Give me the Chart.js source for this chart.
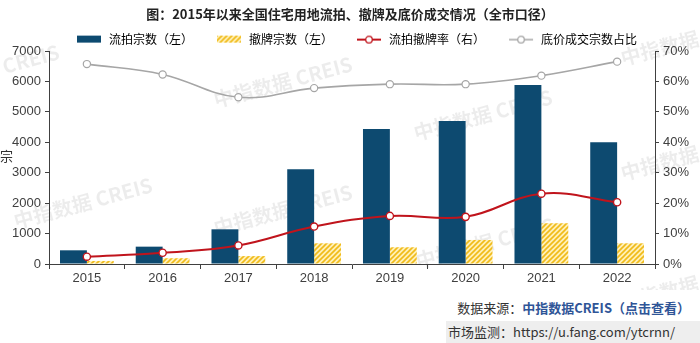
<!DOCTYPE html>
<html>
<head>
<meta charset="utf-8">
<script src="https://cdn.jsdelivr.net/npm/chart.js@4/dist/chart.umd.min.js"></script>
<style>
  body { margin: 0; width: 700px; height: 343px; background: #fff; position: relative; overflow: hidden;
         font-family: "Noto Sans CJK SC", "Liberation Sans", sans-serif; color: #333; }
  #wrap { position: absolute; left: 0; top: 0; width: 700px; height: 290px; }
  #unit { position: absolute; left: 0; top: 146px; font-size: 13px; color: #333; }
  .src { position: absolute; right: 10px; top: 298px; font-size: 13px; white-space: nowrap; }
  .src b { color: #2f5597; }
  .mon { position: absolute; left: 446px; top: 321px; width: 254px; height: 22px; background: #eeeeee;
         font-size: 13px; line-height: 22px; padding-left: 2px; white-space: nowrap; }
</style>
</head>
<body>
<div id="wrap"><canvas id="chart"></canvas></div>
<div id="unit">宗</div>
<div class="src">数据来源：<b>中指数据CREIS（点击查看）</b></div>
<div class="mon">市场监测：https://u.fang.com/ytcrnn/</div>

<script>
const years = ['2015', '2016', '2017', '2018', '2019', '2020', '2021', '2022'];
const liupaiCount = [450, 570, 1140, 3110, 4435, 4700, 5880, 4000];
const chepaiCount = [100, 190, 260, 680, 550, 790, 1340, 680];
const liupaiRate = [2.4, 3.7, 6.1, 12.3, 15.8, 15.5, 23.1, 20.3];
const dijiaShare = [65.7, 62.3, 54.8, 57.8, 59.1, 59.1, 61.9, 66.5];
const seriesNames = ['流拍宗数（左）', '撤牌宗数（左）', '流拍撤牌率（右）', '底价成交宗数占比'];

const BLUE = '#0d4a70';
const RED = '#c0141c';
const GREY = '#a6a6a6';
const AXIS = '#404040';

function makeCanvas(w, h) {
    const c = document.createElement('canvas');
    c.width = w; c.height = h;
    return c;
}

// diagonal yellow hatch for the 撤牌 bars
function hatch() {
    const c = makeCanvas(5, 5);
    const g = c.getContext('2d');
    g.fillStyle = '#fff0b8';
    g.fillRect(0, 0, 5, 5);
    g.strokeStyle = '#f0bb1a';
    g.lineWidth = 1.6;
    g.beginPath();
    g.moveTo(-1, 6); g.lineTo(6, -1);
    g.moveTo(-1, 1); g.lineTo(1, -1);
    g.moveTo(4, 6); g.lineTo(6, 4);
    g.stroke();
    return document.createElement('canvas').getContext('2d').createPattern(c, 'repeat');
}
const hatchFill = hatch();

// legend icons, left margin keeps items spaced out
const ICON_W = 40;
function icon(kind) {
    const c = makeCanvas(ICON_W, 10);
    const g = c.getContext('2d');
    const x0 = ICON_W - 26;
    if (kind === 'bar') {
        g.fillStyle = BLUE; g.fillRect(x0, 1, 24, 7);
    } else if (kind === 'hatch') {
        g.fillStyle = hatchFill; g.fillRect(x0, 1, 24, 7);
    } else {
        const col = kind === 'red' ? RED : GREY;
        g.strokeStyle = col; g.lineWidth = kind === 'red' ? 2 : 1.5;
        g.beginPath(); g.moveTo(x0, 5); g.lineTo(x0 + 24, 5); g.stroke();
        g.fillStyle = '#fff'; g.lineWidth = 1.3;
        g.beginPath(); g.arc(x0 + 12, 5, 3.3, 0, Math.PI * 2); g.fill(); g.stroke();
    }
    return c;
}
const icons = [icon('bar'), icon('hatch'), icon('red'), icon('grey')];

const watermarks = [[-10, 70], [283, 82], [483, 115], [690, 40], [83, 203], [283, 210], [485, 243], [690, 155], [690, 285]];
const watermarkPlugin = {
    id: 'watermark',
    beforeDraw(chart) {
        const ctx = chart.ctx;
        ctx.save();
        ctx.fillStyle = 'rgba(0,0,0,0.075)';
        ctx.font = 'bold 20px "Noto Sans CJK SC"';
        ctx.textAlign = 'center';
        ctx.textBaseline = 'middle';
        watermarks.forEach(([x, y]) => {
            ctx.save();
            ctx.translate(x, y);
            ctx.rotate(-15 * Math.PI / 180);
            ctx.fillText('中指数据 CREIS', 0, 0);
            ctx.restore();
        });
        ctx.restore();
    }
};

// pin the legend height so the plot starts right under it
const legendHeight = {
    id: 'legendHeight',
    beforeInit(chart) {
        const lg = chart.legend;
        const fit = lg.fit;
        lg.fit = function () { fit.call(this); this.height = 27.4; };
    }
};

const tickFont = { family: '"Liberation Sans", Arial', size: 13 };

new Chart(document.getElementById('chart'), {
    data: {
        labels: years,
        datasets: [
            { type: 'line', label: seriesNames[2], data: liupaiRate, yAxisID: 'yR', order: 1,
              borderColor: RED, borderWidth: 2, tension: 0.4, pointRadius: 3.6,
              pointBackgroundColor: '#fff', pointBorderColor: RED, pointBorderWidth: 1.4 },
            { type: 'line', label: seriesNames[3], data: dijiaShare, yAxisID: 'yR', order: 1,
              borderColor: GREY, borderWidth: 1.6, tension: 0.4, pointRadius: 3.6,
              pointBackgroundColor: '#fff', pointBorderColor: GREY, pointBorderWidth: 1.2 },
            { type: 'bar', label: seriesNames[0], data: liupaiCount, yAxisID: 'y', order: 2,
              backgroundColor: BLUE, categoryPercentage: 0.71, barPercentage: 1 },
            { type: 'bar', label: seriesNames[1], data: chepaiCount, yAxisID: 'y', order: 2,
              backgroundColor: hatchFill, categoryPercentage: 0.71, barPercentage: 1 }
        ]
    },
    options: {
        responsive: true,
        maintainAspectRatio: false,
        animation: false,
        layout: { padding: 0 },
        plugins: {
            title: {
                display: true,
                text: '图：2015年以来全国住宅用地流拍、撤牌及底价成交情况（全市口径）',
                color: '#222',
                font: { family: '"Noto Sans CJK SC"', size: 13, weight: 'bold' },
                padding: { top: 6, bottom: 2 }
            },
            legend: {
                labels: {
                    usePointStyle: true,
                    pointStyleWidth: ICON_W,
                    boxHeight: 10,
                    padding: 10,
                    color: '#333',
                    font: { family: '"Noto Sans CJK SC"', size: 12 },
                    generateLabels: () => seriesNames.map((t, i) => ({
                        text: t, pointStyle: icons[i], fillStyle: 'transparent',
                        strokeStyle: 'transparent', lineWidth: 0, hidden: false, datasetIndex: i
                    }))
                }
            },
            tooltip: { enabled: false }
        },
        scales: {
            x: {
                offset: true,
                grid: { offset: true, drawOnChartArea: false, color: AXIS, tickLength: 5 },
                border: { color: AXIS, width: 1 },
                ticks: { color: AXIS, font: tickFont, padding: 2 },
                afterFit: s => { s.height = 26; }
            },
            y: {
                position: 'left', min: 0, max: 7000,
                ticks: { stepSize: 1000, color: AXIS, font: tickFont, padding: 4, callback: v => String(v) },
                grid: { drawOnChartArea: false, color: AXIS, tickLength: 4 },
                border: { color: AXIS, width: 1 },
                afterFit: s => { s.width = 49; }
            },
            yR: {
                position: 'right', min: 0, max: 70,
                ticks: { stepSize: 10, color: AXIS, font: tickFont, padding: 4, callback: v => v + '%' },
                grid: { drawOnChartArea: false, color: AXIS, tickLength: 4 },
                border: { color: AXIS, width: 1 },
                afterFit: s => { s.width = 45; }
            }
        }
    },
    plugins: [watermarkPlugin, legendHeight]
});
</script>
</body>
</html>
